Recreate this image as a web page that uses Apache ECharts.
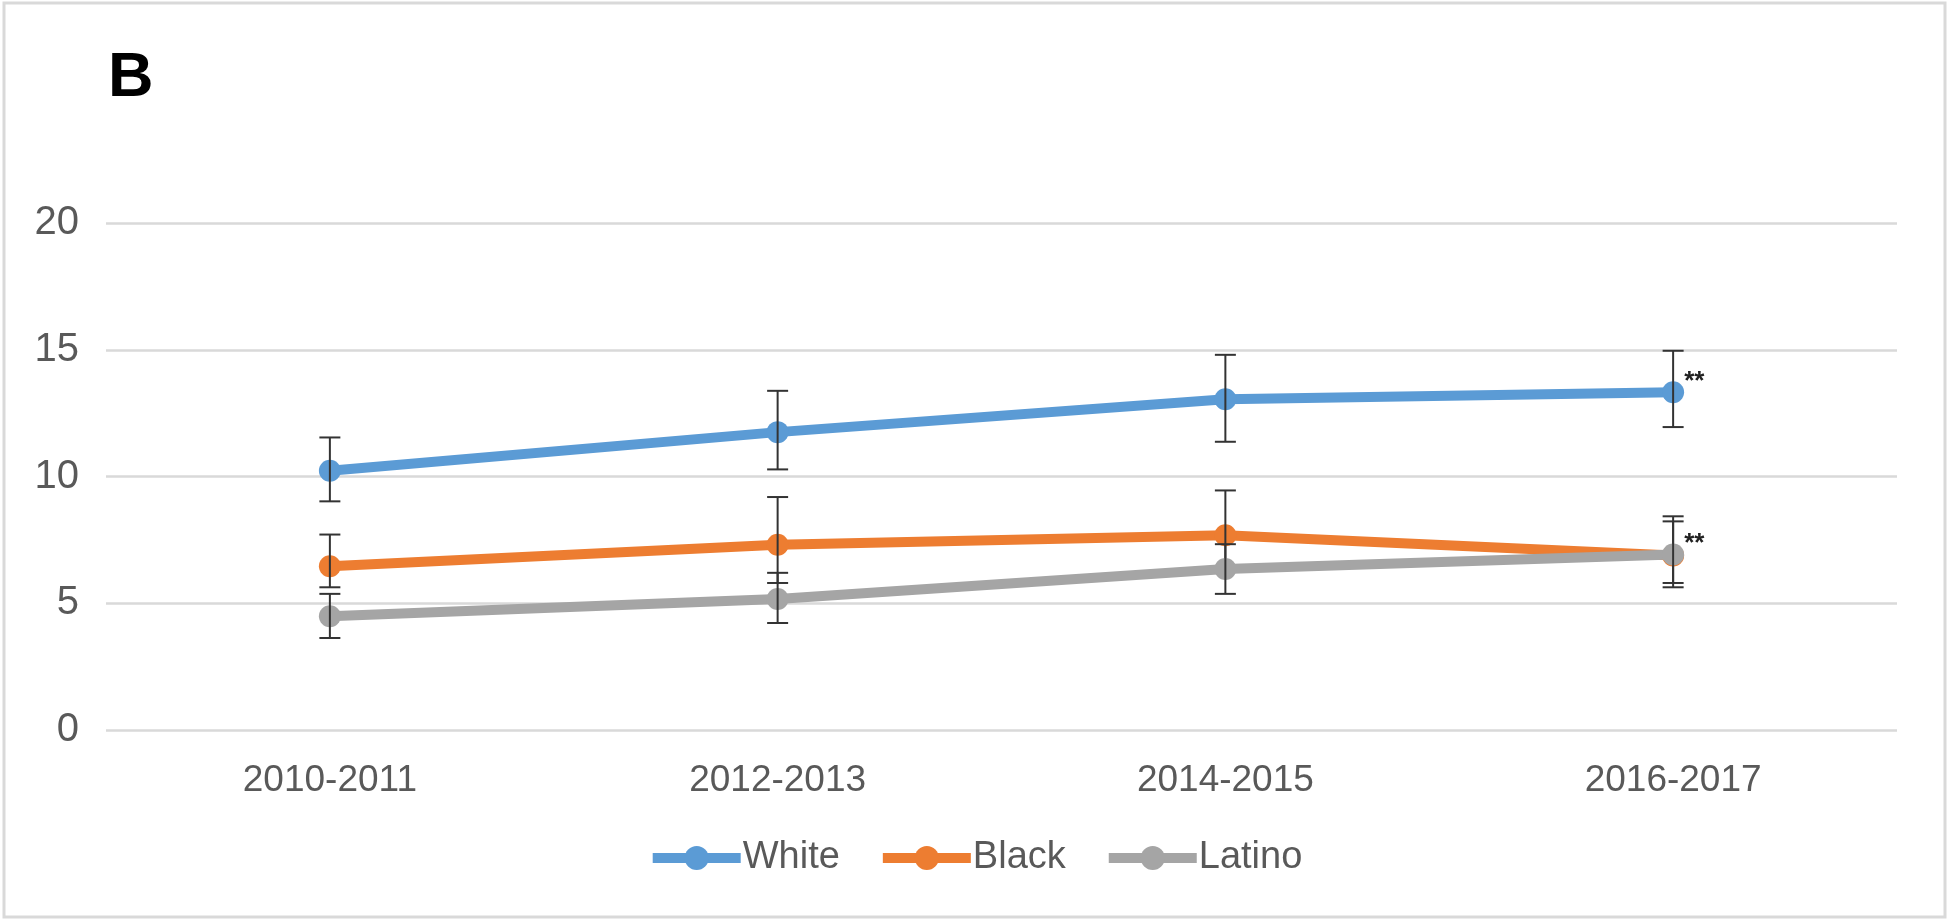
<!DOCTYPE html>
<html>
<head>
<meta charset="utf-8">
<script src="https://cdn.jsdelivr.net/npm/echarts@6/dist/echarts.min.js"></script>
<style>
html,body{margin:0;padding:0;background:#fff;}
#chart{width:1950px;height:922px;}
</style>
</head>
<body>
<div id="chart"></div>
<script>
// ---- data ----
const categories = ['2010-2011', '2012-2013', '2014-2015', '2016-2017'];
const seriesNames = ['White', 'Black', 'Latino'];
const whiteValues = [10.23, 11.75, 13.05, 13.32];
const whiteLow    = [9.02, 10.28, 11.37, 11.95];
const whiteHigh   = [11.54, 13.38, 14.80, 14.96];
const blackValues = [6.46, 7.31, 7.68, 6.88];
const blackLow    = [5.63, 5.80, 6.35, 5.80];
const blackHigh   = [7.71, 9.19, 9.45, 8.43];
const latinoValues = [4.49, 5.17, 6.35, 6.92];
const latinoLow    = [3.63, 4.22, 5.37, 5.63];
const latinoHigh   = [5.37, 6.20, 7.33, 8.23];
const whiteSig  = ['', '', '', '**'];
const latinoSig = ['', '', '', '**'];
const yTicks = [0, 5, 10, 15, 20];

const colors = ['#5B9BD5', '#ED7D31', '#A5A5A5'];
const FONT = '"Liberation Sans", Arial, sans-serif';

function lineData(values, sig) {
  return values.map((v, i) => {
    if (!sig || !sig[i]) return v;
    return {
      value: v,
      label: {
        show: true, formatter: sig[i], position: 'right',
        offset: [-5, -11], fontSize: 26, fontWeight: 'bold', color: '#222', fontFamily: FONT
      }
    };
  });
}

function errData(low, high) {
  return categories.map((c, i) => [i, low[i], high[i]]);
}

function errRender(params, api) {
  const x = api.value(0);
  const lo = api.coord([x, api.value(1)]);
  const hi = api.coord([x, api.value(2)]);
  const hw = 10.5;
  const style = { stroke: '#333333', lineWidth: 2, fill: null };
  return {
    type: 'group',
    children: [
      { type: 'line', shape: { x1: lo[0], y1: lo[1], x2: hi[0], y2: hi[1] }, style },
      { type: 'line', shape: { x1: hi[0] - hw, y1: hi[1], x2: hi[0] + hw, y2: hi[1] }, style },
      { type: 'line', shape: { x1: lo[0] - hw, y1: lo[1], x2: lo[0] + hw, y2: lo[1] }, style }
    ]
  };
}

function lineSeries(name, data, color, z) {
  return {
    name, type: 'line', data, z,
    symbol: 'circle', symbolSize: 22, showSymbol: true,
    lineStyle: { color, width: 10 },
    itemStyle: { color },
    emphasis: { disabled: true },
    animation: false
  };
}

function errSeries(name, low, high, z) {
  return {
    name: name + ' error', type: 'custom', z,
    renderItem: errRender, data: errData(low, high),
    encode: { x: 0, y: [1, 2] }, silent: true, animation: false
  };
}

const chart = echarts.init(document.getElementById('chart'), null, { renderer: 'canvas' });
chart.setOption({
  backgroundColor: '#ffffff',
  animation: false,
  textStyle: { fontFamily: FONT },
  graphic: [
    { type: 'rect', shape: { x: 4, y: 3, width: 1941, height: 914 },
      style: { fill: null, stroke: '#d9d9d9', lineWidth: 3 }, z: 0 },
    { type: 'text', left: 108, top: 47,
      style: { text: 'B', fontSize: 63, fontFamily: FONT, fill: '#000', fontWeight: 'bold' } }
  ],
  legend: {
    data: seriesNames,
    left: 'center', top: 834,
    itemWidth: 88, itemHeight: 30, itemGap: 38,
    lineStyle: { width: 10 },
    textStyle: { fontSize: 38, color: '#595959', fontFamily: FONT, padding: [0, 0, 0, -3] }
  },
  grid: { left: 106, right: 53, top: 223, bottom: 192, containLabel: false },
  xAxis: {
    type: 'category', data: categories, boundaryGap: true,
    axisLine: { show: false }, axisTick: { show: false },
    axisLabel: { fontSize: 37, color: '#595959', margin: 32, fontFamily: FONT }
  },
  yAxis: {
    type: 'value', min: yTicks[0], max: yTicks[yTicks.length - 1], interval: 5,
    axisLine: { show: false }, axisTick: { show: false },
    axisLabel: { fontSize: 40, color: '#595959', margin: 27, fontFamily: FONT },
    splitLine: { lineStyle: { color: '#d9d9d9', width: 2.5 } }
  },
  series: [
    lineSeries('White', lineData(whiteValues, whiteSig), colors[0], 2),
    errSeries('White', whiteLow, whiteHigh, 3),
    lineSeries('Black', lineData(blackValues, null), colors[1], 4),
    errSeries('Black', blackLow, blackHigh, 5),
    lineSeries('Latino', lineData(latinoValues, latinoSig), colors[2], 6),
    errSeries('Latino', latinoLow, latinoHigh, 7)
  ]
});
</script>
</body>
</html>
